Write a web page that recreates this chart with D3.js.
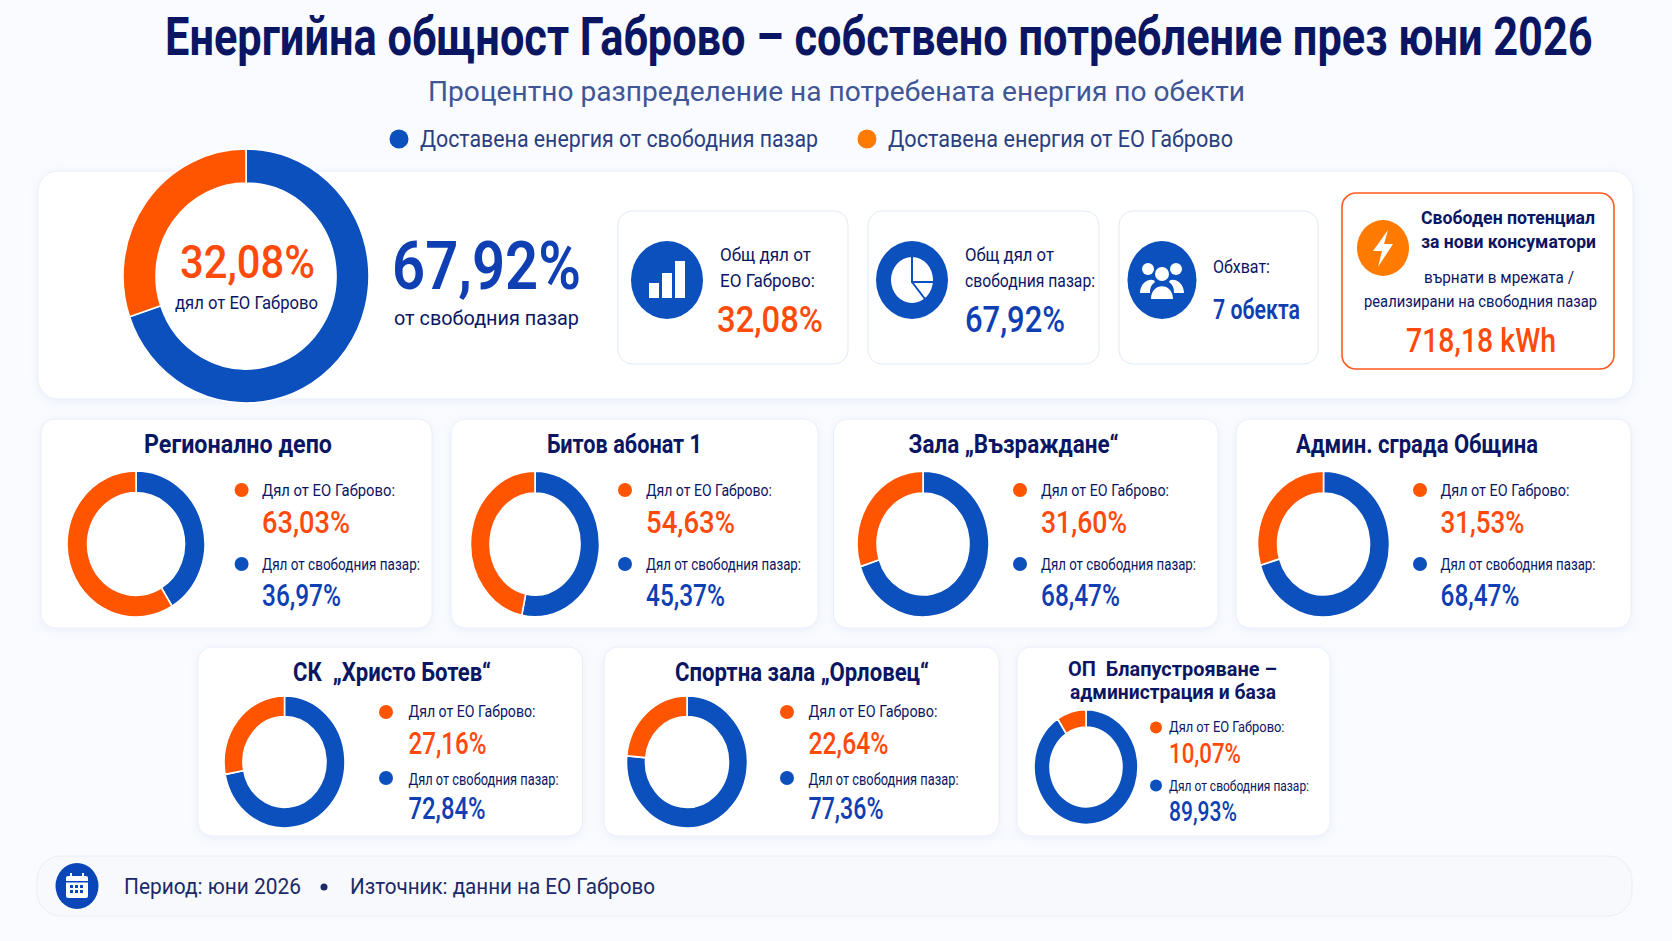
<!DOCTYPE html>
<html lang="bg">
<head>
<meta charset="utf-8">
<title>Енергийна общност Габрово</title>
<script src="https://cdn.jsdelivr.net/npm/d3@7/dist/d3.min.js"></script>
<style>
  html, body { margin: 0; padding: 0; background: #f9fbff; }
  svg { display: block; }
  text { font-family: Roboto, "Noto Sans", sans-serif; }
</style>
</head>
<body>
<svg id="chart"></svg>
<script>
// values as printed in the picture (they do not always sum to 100, kept as shown)
const totalShares = [67.92, 32.08];
const siteNames = ['Регионално депо', 'Битов абонат 1', 'Зала „Възраждане“', 'Админ. сграда Община',
  'СК  „Христо Ботев“', 'Спортна зала „Орловец“', 'ОП  Блапустрояване –'];
const shareEO = [63.03, 54.63, 31.60, 31.53, 27.16, 22.64, 10.07];
const shareMarket = [36.97, 45.37, 68.47, 68.47, 72.84, 77.36, 89.93];
// the rings in the picture do not follow the printed numbers, blue part read off the arcs
const totalRingMarket = 69.8;
const siteRingMarket = [41.25, 53.3, 70.0, 70.3, 72.0, 76.5, 90.8];
const legendLabels = ['Доставена енергия от свободния пазар', 'Доставена енергия от ЕО Габрово'];

const width = 1672;
const height = 941;
const BLUE = '#0b50bd';
const ORANGE = '#ff5500';
const NAVY = '#0b1663';
const TEXT_BLUE = '#0f3fb3';
const TEXT_ORANGE = '#ff4a0c';

const svg = d3.select('#chart').attr('width', width).attr('height', height);

const defs = svg.append('defs');
const shadow = defs.append('filter').attr('id', 'soft')
  .attr('x', '-5%').attr('y', '-5%').attr('width', '110%').attr('height', '112%');
shadow.append('feDropShadow').attr('dx', 0).attr('dy', 2).attr('stdDeviation', 4)
  .attr('flood-color', '#8aa0d0').attr('flood-opacity', 0.14);

const fmt = (v) => d3.format('.2f')(v).replace('.', ',') + '%';

// text squeezed to the measured width, the original font is a narrow one
function label(g, x, y, str, size, weight, fill, w) {
  const t = g.append('text')
    .attr('x', x)
    .attr('y', y)
    .attr('font-size', size)
    .attr('font-weight', weight)
    .attr('fill', fill)
    .attr('xml:space', 'preserve')
    .text(str);
  if (w) t.attr('textLength', w).attr('lengthAdjust', 'spacingAndGlyphs');
  return t;
}

function box(g, x0, y0, x1, y1, r, fill, stroke, sw, filtered) {
  const b = g.append('rect')
    .attr('x', x0).attr('y', y0)
    .attr('width', x1 - x0).attr('height', y1 - y0)
    .attr('rx', r)
    .attr('fill', fill)
    .attr('stroke', stroke)
    .attr('stroke-width', sw || 1);
  if (filtered) b.attr('filter', 'url(#soft)');
  return b;
}

function donut(g, cx, cy, rx, ry, inner, market) {
  const pie = d3.pie().sort(null);
  const arc = d3.arc().innerRadius(inner).outerRadius(rx);
  g.append('g')
    .attr('transform', `translate(${cx},${cy}) scale(1,${ry / rx})`)
    .selectAll('path')
    .data(pie([market, 100 - market]))
    .enter()
    .append('path')
    .attr('d', arc)
    .attr('fill', (d, i) => (i === 0 ? BLUE : ORANGE))
    .attr('stroke', '#fff')
    .attr('stroke-width', 1.6);
}

// heading, scaled as a whole since at full width it would run off the page
const titleText = label(svg, 0, 0, 'Енергийна общност Габрово – собствено потребление през юни 2026', 53, 700, NAVY);
const titleScale = 1428 / titleText.node().getComputedTextLength();
titleText.attr('transform', `translate(165,55) scale(${titleScale},1)`);
label(svg, 428, 101, 'Процентно разпределение на потребената енергия по обекти', 27, 400, '#3f5596', 817);

const legend = svg.append('g');
legend.selectAll('circle')
  .data([{ x: 399, c: BLUE }, { x: 867, c: '#ff7a00' }])
  .enter()
  .append('circle')
  .attr('cx', (d) => d.x)
  .attr('cy', 139)
  .attr('r', 9.5)
  .attr('fill', (d) => d.c);
label(legend, 420, 147, legendLabels[0], 23, 400, '#2a3f7f', 398);
label(legend, 888, 147, legendLabels[1], 23, 400, '#2a3f7f', 345);

// top panel
const panel = svg.append('g');
box(panel, 38, 171, 1633, 399, 20, '#fff', '#e9eef8', 1, true);
box(panel, 618, 211, 848, 364, 14, '#fff', '#e2e9f7');
box(panel, 868, 211, 1099, 364, 14, '#fff', '#e2e9f7');
box(panel, 1119, 211, 1318, 364, 14, '#fff', '#e2e9f7');
box(panel, 1342, 193, 1614, 369, 14, '#fff', '#ff5a1f', 1.6);

donut(panel, 246, 276, 123, 127, 90, totalRingMarket);
label(panel, 180, 278, fmt(totalShares[1]), 47, 500, TEXT_ORANGE, 135);
label(panel, 175, 309, 'дял от ЕО Габрово', 19, 400, NAVY, 143);
label(panel, 392, 289, fmt(totalShares[0]), 66, 600, TEXT_BLUE, 189);
label(panel, 394, 325, 'от свободния пазар', 21, 400, NAVY, 185);

function iconDisc(cx, cy, rx, ry, fill) {
  const g = panel.append('g').attr('transform', `translate(${cx},${cy})`);
  g.append('ellipse').attr('rx', rx).attr('ry', ry).attr('fill', fill);
  return g;
}

// bars icon
const barsIcon = iconDisc(667, 280, 36, 39, BLUE);
barsIcon.selectAll('rect')
  .data([{ x: -18, y: 3, h: 15 }, { x: -5, y: -7, h: 25 }, { x: 8, y: -19, h: 37 }])
  .enter()
  .append('rect')
  .attr('x', (d) => d.x)
  .attr('y', (d) => d.y)
  .attr('width', 10)
  .attr('height', (d) => d.h)
  .attr('fill', '#fff');
label(panel, 720, 261, 'Общ дял от', 18, 400, NAVY, 91);
label(panel, 720, 287, 'ЕО Габрово:', 18, 400, NAVY, 95);
label(panel, 717, 332, fmt(totalShares[1]), 36, 500, TEXT_ORANGE, 106);

// pie icon
const pieIcon = iconDisc(912, 280, 36, 39, BLUE);
pieIcon.append('ellipse').attr('rx', 21).attr('ry', 23).attr('fill', '#fff');
pieIcon.append('path')
  .attr('d', 'M0,-23 V2 H21 M0,2 L13,19')
  .attr('fill', 'none')
  .attr('stroke', BLUE)
  .attr('stroke-width', 2);
label(panel, 965, 261, 'Общ дял от', 18, 400, NAVY, 89);
label(panel, 965, 287, 'свободния пазар:', 18, 400, NAVY, 130);
label(panel, 965, 332, fmt(totalShares[0]), 36, 500, TEXT_BLUE, 100);

// people icon
const peopleIcon = iconDisc(1162, 280, 34.5, 39, BLUE);
peopleIcon.selectAll('circle')
  .data([{ x: -14, y: -11, r: 6 }, { x: 14, y: -11, r: 6 }, { x: 0, y: -6, r: 7 }])
  .enter()
  .append('circle')
  .attr('cx', (d) => d.x)
  .attr('cy', (d) => d.y)
  .attr('r', (d) => d.r)
  .attr('fill', '#fff');
peopleIcon.append('path')
  .attr('d', 'M-22,13 C-22,0 -8,-3 -7,2 C-11,5 -12,8 -12,13 Z M22,13 C22,0 8,-3 7,2 C11,5 12,8 12,13 Z M-11,19 C-11,2 11,2 11,19 Z')
  .attr('fill', '#fff');
label(panel, 1213, 273, 'Обхват:', 18, 400, NAVY, 57);
label(panel, 1213, 319, '7 обекта', 27, 600, TEXT_BLUE, 87);

// free potential card
const boltIcon = iconDisc(1383, 248, 26, 28, '#ff7a00');
boltIcon.append('path')
  .attr('d', 'M5,-18 L-10,3 H-1 L-5,19 L10,-4 H1 Z')
  .attr('fill', '#fff');
label(panel, 1421, 224, 'Свободен потенциал', 18, 700, NAVY, 174);
label(panel, 1421, 248, 'за нови консуматори', 18, 700, NAVY, 175);
label(panel, 1424, 283, 'върнати в мрежата /', 17, 400, NAVY, 150);
label(panel, 1364, 307, 'реализирани на свободния пазар', 17, 400, NAVY, 233);
label(panel, 1406, 352, '718,18 kWh', 34, 500, TEXT_ORANGE, 150);

// object cards, boxes and text widths measured per card
const siteCards = [
  { box: [41, 419, 432, 628], c: [136, 544, 69, 73, 48.5], tx: 144, tw: 188, ty: 453, dot: 241.6, lx: 262, lw: [133, 158], vw: [88, 79] },
  { box: [451, 419, 818, 628], c: [535, 544, 64.5, 73, 45], tx: 547, tw: 155, ty: 453, dot: 625, lx: 646, lw: [126, 155], vw: [89, 79] },
  { box: [833.5, 419, 1218, 628], c: [923, 544, 66, 73, 46], tx: 908.5, tw: 210, ty: 453, dot: 1020, lx: 1041, lw: [128, 155], vw: [86, 79] },
  { box: [1236, 419, 1631, 628], c: [1323.5, 544, 66, 73, 46], tx: 1296, tw: 242, ty: 453, dot: 1420, lx: 1440.5, lw: [129, 155], vw: [84, 79] },
  { box: [198, 647, 582.5, 836], c: [284.5, 762, 60.5, 66, 41.5], tx: 293, tw: 198, ty: 681, dot: 386, lx: 408.5, lw: [127, 150], vw: [78, 77] },
  { box: [604, 647, 999, 836], c: [687, 762, 60.5, 66, 41.5], tx: 675, tw: 254, ty: 681, dot: 787, lx: 808.5, lw: [129, 150], vw: [80, 75] }
];
const rowYs = [
  { dot: [490, 564], lab: [495.5, 570], val: [533, 606], fs: 16, vs: 31, ts: 25, dr: 7 },
  { dot: [712, 778], lab: [717, 784.6], val: [754, 819], fs: 16, vs: 31, ts: 25, dr: 7 }
];

function siteCard(i, card, rows) {
  const g = svg.append('g');
  box(g, ...card.box, 14, '#fff', '#e9eef8', 1, true);
  donut(g, card.c[0], card.c[1], card.c[2], card.c[3], card.c[4], siteRingMarket[i]);
  label(g, card.tx, card.ty, siteNames[i], rows.ts, 700, NAVY, card.tw);
  const names = ['Дял от ЕО Габрово:', 'Дял от свободния пазар:'];
  const vals = [shareEO[i], shareMarket[i]];
  names.forEach((n, k) => {
    g.append('circle')
      .attr('cx', card.dot)
      .attr('cy', rows.dot[k])
      .attr('r', rows.dr)
      .attr('fill', k === 0 ? ORANGE : BLUE);
    label(g, card.lx, rows.lab[k], n, rows.fs, 400, NAVY, card.lw[k]);
    label(g, card.lx, rows.val[k], fmt(vals[k]), rows.vs, 500, k === 0 ? TEXT_ORANGE : TEXT_BLUE, card.vw[k]);
  });
  return g;
}

siteCards.forEach((card, i) => siteCard(i, card, rowYs[i < 4 ? 0 : 1]));

// last card is smaller and has a two line title
const lastCard = siteCard(6, {
  box: [1017, 647, 1330, 836], c: [1086, 767, 52, 57.5, 36], tx: 1068, tw: 209, ty: 676,
  dot: 1156, lx: 1169, lw: [115.5, 140], vw: [72, 68]
}, { dot: [727.6, 785.6], lab: [732, 791.4], val: [763, 821], fs: 14.5, vs: 28, ts: 20, dr: 6 });
label(lastCard, 1070, 699, 'администрация и база', 20, 700, NAVY, 206);

// footer
const footer = svg.append('g');
box(footer, 37, 856, 1632, 916, 24, '#f7f9fd', '#e8edf7');
footer.append('ellipse').attr('cx', 77).attr('cy', 886).attr('rx', 21.5).attr('ry', 23).attr('fill', '#0b46b8');
const cal = footer.append('g').attr('transform', 'translate(77,886)');
cal.append('rect').attr('x', -11).attr('y', -10).attr('width', 22).attr('height', 22).attr('rx', 2).attr('fill', '#fff');
cal.append('rect').attr('x', -11).attr('y', -5).attr('width', 22).attr('height', 1.5).attr('fill', '#0b46b8');
cal.selectAll('rect.day')
  .data(d3.cross([-7, -2, 3], [-1, 4]))
  .enter()
  .append('rect')
  .attr('class', 'day')
  .attr('x', (d) => d[0])
  .attr('y', (d) => d[1])
  .attr('width', 3)
  .attr('height', 3)
  .attr('fill', '#0b46b8');
cal.append('path').attr('d', 'M-6,-13 V-7 M6,-13 V-7').attr('stroke', '#fff').attr('stroke-width', 2);
label(footer, 124, 894, 'Период: юни 2026', 22, 400, '#1b2a66', 177);
footer.append('circle').attr('cx', 324).attr('cy', 887).attr('r', 3.5).attr('fill', '#1b2a66');
label(footer, 350, 894, 'Източник: данни на ЕО Габрово', 22, 400, '#1b2a66', 305);
</script>
</body>
</html>
